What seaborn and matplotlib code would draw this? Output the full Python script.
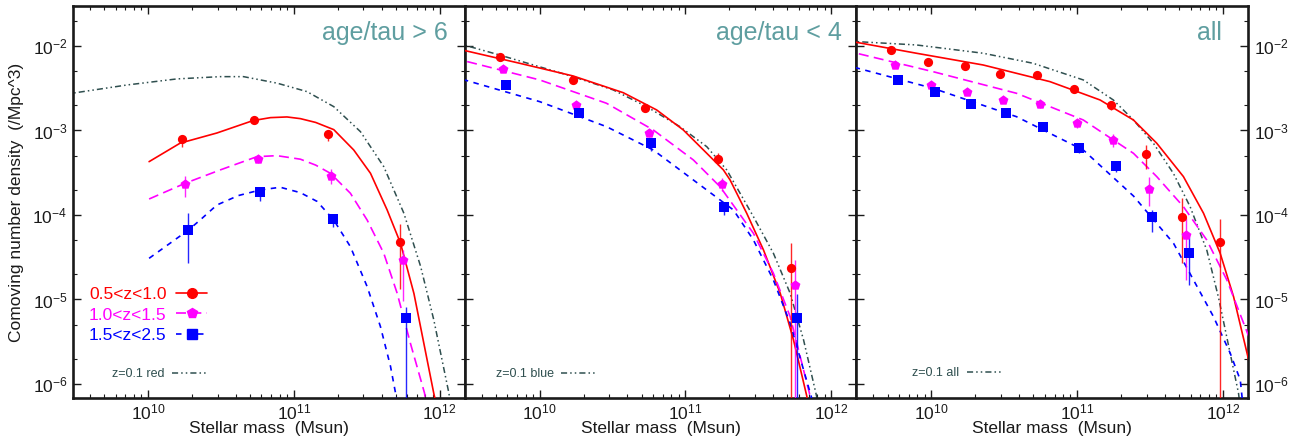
import numpy as np
import matplotlib
matplotlib.use("Agg")
import matplotlib.pyplot as plt
import seaborn as sns
from matplotlib.lines import Line2D
from matplotlib.ticker import LogLocator, NullFormatter

sns.set_theme(style="ticks")
plt.rcParams["font.family"] = ["Liberation Sans", "DejaVu Sans"]
plt.rcParams["mathtext.fontset"] = "custom"
plt.rcParams["mathtext.rm"] = "Liberation Sans"
plt.rcParams["mathtext.it"] = "Liberation Sans:italic"
plt.rcParams["mathtext.bf"] = "Liberation Sans:bold"

# ---------------- data (log10 stellar mass, log10 number density) ----------------
panel_titles = ["age/tau > 6", "age/tau < 4", "all"]
series_labels = ["0.5<z<1.0", "1.0<z<1.5", "1.5<z<2.5"]
local_labels = ["z=0.1 red", "z=0.1 blue", "z=0.1 all"]
x_label = "Stellar mass  (Msun)"
y_label = "Comoving number density  (/Mpc^3)"

# Panel 1 (age/tau > 6): measured points
p1_red_lx = [10.232, 10.729, 11.232, 11.725]
p1_red_ly = [-3.104, -2.876, -3.042, -4.323]
p1_red_up = [0.03, 0.04, 0.05, 0.22]
p1_red_dn = [0.09, 0.04, 0.08, 0.55]
p1_mag_lx = [10.254, 10.751, 11.256, 11.748]
p1_mag_ly = [-3.633, -3.337, -3.535, -4.533]
p1_mag_up = [0.10, 0.05, 0.08, 0.12]
p1_mag_dn = [0.15, 0.05, 0.10, 0.48]
p1_blu_lx = [10.277, 10.770, 11.267, 11.768]
p1_blu_ly = [-4.178, -3.731, -4.047, -5.215]
p1_blu_up = [0.20, 0.05, 0.05, 0.12]
p1_blu_dn = [0.39, 0.10, 0.10, 3.0]
# Panel 1 fitted curves
p1_red_fit_lx = [10.007, 10.22, 10.472, 10.72, 10.84, 10.953, 11.045, 11.15, 11.274, 11.411, 11.526, 11.64, 11.732, 11.824, 11.892, 11.96, 11.985]
p1_red_fit_ly = [-3.369, -3.15, -3.03, -2.883, -2.848, -2.840, -2.860, -2.905, -2.99, -3.231, -3.507, -3.94, -4.335, -4.93, -5.52, -6.11, -6.3]
p1_mag_fit_lx = [10.007, 10.254, 10.495, 10.747, 10.884, 11.045, 11.15, 11.251, 11.388, 11.503, 11.617, 11.709, 11.80, 11.897, 11.91]
p1_mag_fit_ly = [-3.811, -3.625, -3.467, -3.31, -3.298, -3.34, -3.41, -3.507, -3.743, -4.06, -4.453, -4.927, -5.52, -6.11, -6.3]
p1_blu_fit_lx = [10.007, 10.277, 10.357, 10.472, 10.62, 10.77, 10.907, 11.045, 11.16, 11.274, 11.388, 11.503, 11.594, 11.663, 11.698, 11.71]
p1_blu_fit_ly = [-4.513, -4.178, -4.06, -3.882, -3.77, -3.704, -3.672, -3.736, -3.84, -4.06, -4.375, -4.848, -5.32, -5.79, -6.11, -6.3]
p1_loc_lx = [9.40, 9.854, 10.197, 10.495, 10.655, 10.885, 11.09, 11.274, 11.457, 11.617, 11.755, 11.87, 11.96, 12.064, 12.08]
p1_loc_ly = [-2.58, -2.462, -2.39, -2.363, -2.363, -2.44, -2.54, -2.718, -3.014, -3.428, -3.98, -4.61, -5.24, -6.11, -6.3]

# Panel 2 (age/tau < 4)
p2_red_lx = [9.725, 10.225, 10.722, 11.226, 11.723]
p2_red_ly = [-2.134, -2.402, -2.730, -3.341, -4.623]
p2_red_up = [0.03, 0.03, 0.04, 0.08, 0.29]
p2_red_dn = [0.03, 0.04, 0.05, 0.07, 3.0]
p2_mag_lx = [9.748, 10.247, 10.747, 11.249, 11.748]
p2_mag_ly = [-2.272, -2.698, -3.033, -3.633, -4.828]
p2_mag_up = [0.03, 0.03, 0.05, 0.07, 0.30]
p2_mag_dn = [0.04, 0.05, 0.05, 0.08, 3.0]
p2_blu_lx = [9.771, 10.270, 10.763, 11.265, 11.766]
p2_blu_ly = [-2.466, -2.789, -3.144, -3.902, -5.220]
p2_blu_up = [0.03, 0.04, 0.06, 0.05, 0.29]
p2_blu_dn = [0.04, 0.05, 0.10, 0.10, 3.0]
p2_red_fit_lx = [9.40, 9.863, 10.229, 10.573, 10.802, 10.985, 11.146, 11.26, 11.306, 11.42, 11.535, 11.65, 11.741, 11.833, 11.84]
p2_red_fit_ly = [-2.02, -2.205, -2.355, -2.553, -2.757, -2.994, -3.27, -3.467, -3.586, -3.98, -4.414, -4.927, -5.479, -6.15, -6.3]
p2_mag_fit_lx = [9.40, 10.0, 10.458, 10.779, 11.054, 11.237, 11.466, 11.603, 11.718, 11.856, 11.865]
p2_mag_fit_ly = [-2.14, -2.402, -2.678, -2.994, -3.349, -3.665, -4.217, -4.69, -5.203, -6.15, -6.3]
p2_blu_fit_lx = [9.40, 10.0, 10.458, 10.779, 11.054, 11.329, 11.466, 11.603, 11.718, 11.863, 11.872]
p2_blu_fit_ly = [-2.36, -2.659, -2.955, -3.231, -3.586, -3.941, -4.296, -4.769, -5.282, -6.15, -6.3]
p2_loc_lx = [9.40, 9.725, 10.229, 10.504, 10.733, 10.962, 11.146, 11.283, 11.466, 11.603, 11.718, 11.81, 11.90, 11.91]
p2_loc_ly = [-1.95, -2.107, -2.363, -2.52, -2.718, -2.955, -3.192, -3.467, -4.02, -4.453, -4.927, -5.479, -6.15, -6.3]

# Panel 3 (all)
p3_red_lx = [9.725, 9.977, 10.229, 10.474, 10.726, 10.978, 11.230, 11.473, 11.722, 11.977]
p3_red_ly = [-2.047, -2.189, -2.233, -2.328, -2.343, -2.509, -2.702, -3.282, -4.020, -4.323]
p3_red_up = [0.02, 0.02, 0.02, 0.02, 0.02, 0.03, 0.05, 0.11, 0.22, 0.28]
p3_red_dn = [0.02, 0.02, 0.02, 0.03, 0.03, 0.03, 0.05, 0.17, 0.55, 3.0]
p3_mag_lx = [9.748, 10.000, 10.247, 10.492, 10.744, 10.997, 11.248, 11.496, 11.746]
p3_mag_ly = [-2.228, -2.458, -2.548, -2.635, -2.690, -2.915, -3.112, -3.696, -4.237]
p3_mag_up = [0.02, 0.03, 0.03, 0.03, 0.03, 0.04, 0.07, 0.15, 0.20]
p3_mag_dn = [0.03, 0.03, 0.03, 0.03, 0.04, 0.05, 0.08, 0.20, 0.53]
p3_blu_lx = [9.771, 10.023, 10.270, 10.515, 10.767, 11.014, 11.265, 11.516, 11.768]
p3_blu_ly = [-2.402, -2.544, -2.690, -2.797, -2.955, -3.211, -3.416, -4.020, -4.446]
p3_blu_up = [0.02, 0.02, 0.03, 0.03, 0.03, 0.04, 0.05, 0.08, 0.19]
p3_blu_dn = [0.02, 0.03, 0.03, 0.03, 0.04, 0.05, 0.07, 0.18, 0.38]
p3_red_fit_lx = [9.40, 9.897, 10.355, 10.813, 11.157, 11.386, 11.546, 11.729, 11.867, 11.981, 12.073, 12.18]
p3_red_fit_ly = [-1.93, -2.086, -2.225, -2.422, -2.639, -2.876, -3.151, -3.546, -3.98, -4.453, -4.967, -5.74]
p3_mag_fit_lx = [9.40, 10.011, 10.584, 11.042, 11.386, 11.546, 11.729, 11.889, 12.027, 12.18]
p3_mag_fit_ly = [-2.05, -2.304, -2.56, -2.876, -3.27, -3.546, -3.902, -4.296, -4.769, -5.45]
p3_blu_fit_lx = [9.40, 10.011, 10.584, 11.042, 11.386, 11.661, 11.798, 11.935, 12.05, 12.119, 12.14]
p3_blu_fit_ly = [-2.22, -2.501, -2.837, -3.231, -3.775, -4.335, -4.769, -5.203, -5.636, -5.953, -6.3]
p3_loc_lx = [9.40, 9.897, 10.355, 10.698, 11.042, 11.248, 11.386, 11.523, 11.66, 11.775, 11.89, 11.97, 12.027, 12.107, 12.12]
p3_loc_ly = [-1.94, -1.988, -2.086, -2.205, -2.402, -2.639, -2.876, -3.151, -3.507, -3.902, -4.42, -4.98, -5.45, -6.11, -6.3]

# ---------------- styling ----------------
c_red, c_mag, c_blu, c_loc = "#ff0000", "#ff00ff", "#0000ff", "#2f4f4f"
title_color = "#5f9ea0"
ls_red = "-"
ls_mag = (0, (6, 3.2))
ls_blu = (0, (3.3, 3.3))
ls_loc = (0, (4, 2, 1, 2, 1, 2))

panels = [
    dict(pts=[(p1_red_lx, p1_red_ly, p1_red_up, p1_red_dn), (p1_mag_lx, p1_mag_ly, p1_mag_up, p1_mag_dn),
              (p1_blu_lx, p1_blu_ly, p1_blu_up, p1_blu_dn)],
         fits=[(p1_red_fit_lx, p1_red_fit_ly), (p1_mag_fit_lx, p1_mag_fit_ly), (p1_blu_fit_lx, p1_blu_fit_ly)],
         loc=(p1_loc_lx, p1_loc_ly)),
    dict(pts=[(p2_red_lx, p2_red_ly, p2_red_up, p2_red_dn), (p2_mag_lx, p2_mag_ly, p2_mag_up, p2_mag_dn),
              (p2_blu_lx, p2_blu_ly, p2_blu_up, p2_blu_dn)],
         fits=[(p2_red_fit_lx, p2_red_fit_ly), (p2_mag_fit_lx, p2_mag_fit_ly), (p2_blu_fit_lx, p2_blu_fit_ly)],
         loc=(p2_loc_lx, p2_loc_ly)),
    dict(pts=[(p3_red_lx, p3_red_ly, p3_red_up, p3_red_dn), (p3_mag_lx, p3_mag_ly, p3_mag_up, p3_mag_dn),
              (p3_blu_lx, p3_blu_ly, p3_blu_up, p3_blu_dn)],
         fits=[(p3_red_fit_lx, p3_red_fit_ly), (p3_mag_fit_lx, p3_mag_fit_ly), (p3_blu_fit_lx, p3_blu_fit_ly)],
         loc=(p3_loc_lx, p3_loc_ly)),
]
colors = [c_red, c_mag, c_blu]
styles = [ls_red, ls_mag, ls_blu]
markers = ["o", "p", "s"]
msizes = [44, 56, 50]

W, H = 1290, 441
fig, axes = plt.subplots(1, 3, figsize=(W / 100, H / 100), dpi=100)
fig.subplots_adjust(left=73 / W, right=1248 / W, bottom=1 - 398 / H, top=1 - 6 / H, wspace=0)

title_x = [0.957, 0.964, 0.933]
loc_anchor = [(134 / 391, 24 / 392), (132 / 393, 24 / 392), (145 / 391, 25 / 392)]

for i, (ax, pnl) in enumerate(zip(axes, panels)):
    ax.set_xscale("log")
    ax.set_yscale("log")
    # local z=0.1 function
    lx, ly = pnl["loc"]
    sns.lineplot(x=10 ** np.array(lx), y=10 ** np.array(ly), ax=ax, color=c_loc, lw=1.1,
                 linestyle=ls_loc, sort=False, estimator=None, zorder=2)
    for (flx, fly), c, ls in zip(pnl["fits"], colors, styles):
        sns.lineplot(x=10 ** np.array(flx), y=10 ** np.array(fly), ax=ax, color=c, lw=1.2,
                     linestyle=ls, sort=False, estimator=None, zorder=3)
    for (plx, ply, up, dn), c, m, s in zip(pnl["pts"], colors, markers, msizes):
        plx = np.array(plx); ply = np.array(ply)
        ax.vlines(10 ** plx, 10 ** (ply - np.array(dn)), 10 ** (ply + np.array(up)),
                  colors=c, lw=1.0, alpha=0.85, zorder=4)
        sns.scatterplot(x=10 ** plx, y=10 ** ply, ax=ax, marker=m, s=s, color=c,
                        edgecolor=c, linewidth=0, zorder=5)

    ax.set_xlim(10 ** 9.485, 10 ** 12.172)
    ax.set_ylim(10 ** -6.166, 10 ** -1.527)
    ax.xaxis.set_major_locator(LogLocator(base=10, numticks=12))
    ax.xaxis.set_minor_locator(LogLocator(base=10, subs=np.arange(2, 10), numticks=30))
    ax.xaxis.set_minor_formatter(NullFormatter())
    ax.yaxis.set_major_locator(LogLocator(base=10, numticks=12))
    ax.yaxis.set_minor_locator(LogLocator(base=10, subs=(2, 5), numticks=30))
    ax.yaxis.set_minor_formatter(NullFormatter())
    ax.tick_params(which="both", direction="in", top=True, bottom=True, left=True, right=True,
                   color="k", labelcolor="k")
    ax.tick_params(which="major", length=6, width=1.0, labelsize=12.5, pad=3)
    ax.tick_params(which="minor", length=3, width=0.8)
    ax.tick_params(axis="y", labelleft=(i == 0), labelright=(i == 2), pad=4)
    for sp in ax.spines.values():
        sp.set_linewidth(1.9)
        sp.set_color("k")
    ax.set_xlabel(x_label, fontsize=12.5, labelpad=-1, color="k")
    if i == 0:
        ax.set_ylabel(y_label, fontsize=12.5, labelpad=6, color="k")
    else:
        ax.set_ylabel("")
    ax.text(title_x[i], 0.931, panel_titles[i], transform=ax.transAxes, ha="right", va="center",
            fontsize=18, color=title_color)

    if i == 0:
        handles = [Line2D([], [], color=c, ls=ls, lw=1.2, marker=m, ms=7)
                   for c, ls, m in zip(colors, styles, markers)]
        leg = ax.legend(handles, series_labels, loc="center right",
                        bbox_to_anchor=(134 / 391, 83 / 392), frameon=False, markerfirst=False,
                        fontsize=12.5, handlelength=1.8, handletextpad=0.55, labelspacing=0.33,
                        borderpad=0, borderaxespad=0, numpoints=1, labelcolor=colors)
        ax.add_artist(leg)
    h_loc = [Line2D([], [], color=c_loc, ls=ls_loc, lw=1.1)]
    ax.legend(h_loc, [local_labels[i]], loc="center right", bbox_to_anchor=loc_anchor[i],
              frameon=False, markerfirst=False, fontsize=9, handlelength=2.8, handletextpad=0.6,
              borderpad=0, borderaxespad=0, labelcolor=[c_loc])

fig.savefig("out.png", dpi=100)
